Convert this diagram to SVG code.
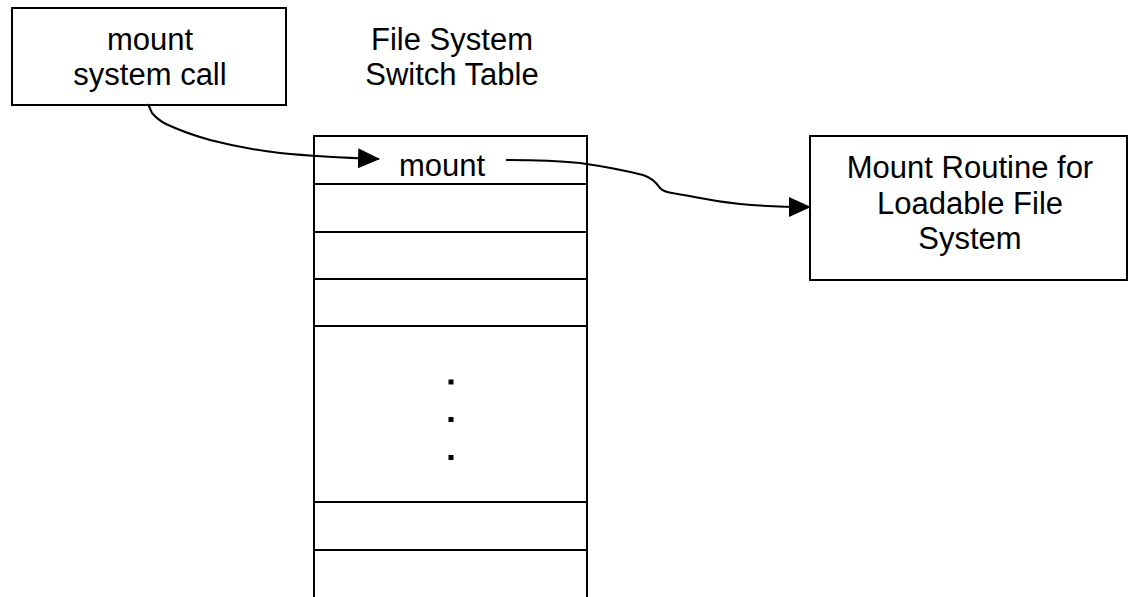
<svg xmlns="http://www.w3.org/2000/svg" width="1130" height="597" viewBox="0 0 1130 597">
<style>
.box{fill:#fff;stroke:#000;stroke-width:2}
.ln{stroke:#000;stroke-width:2;fill:none}
.t{font-family:"Liberation Sans",Arial,sans-serif;font-size:31px;fill:#000;text-anchor:middle}
</style>
<defs>
<marker id="ah" markerWidth="22" markerHeight="20" refX="21" refY="10" orient="auto" markerUnits="userSpaceOnUse">
<path d="M0,0 L22,10 L0,20 Z" fill="#000"/>
</marker>
</defs>
<rect width="1130" height="597" fill="#fff"/>
<g id="syscall">
<rect class="box" x="12" y="8" width="274" height="97"/>
<text class="t" x="150" y="50">mount</text>
<text class="t" x="150" y="85">system call</text>
</g>
<g id="fsst-title">
<text class="t" x="452" y="50">File System</text>
<text class="t" x="452" y="85">Switch Table</text>
</g>
<g id="table">
<path class="ln" d="M314,597 V136 H587 V597"/>
<line class="ln" x1="314" y1="184" x2="587" y2="184"/>
<line class="ln" x1="314" y1="232" x2="587" y2="232"/>
<line class="ln" x1="314" y1="279" x2="587" y2="279"/>
<line class="ln" x1="314" y1="326" x2="587" y2="326"/>
<line class="ln" x1="314" y1="502" x2="587" y2="502"/>
<line class="ln" x1="314" y1="550" x2="587" y2="550"/>
<text class="t" x="442" y="176">mount</text>
<rect x="448.5" y="379.5" width="5" height="5" fill="#000"/>
<rect x="448.5" y="417" width="5" height="5" fill="#000"/>
<rect x="448.5" y="455" width="5" height="5" fill="#000"/>
</g>
<g id="routine">
<rect class="box" x="810" y="136" width="317" height="144"/>
<text class="t" x="970" y="178">Mount Routine for</text>
<text class="t" x="970" y="214">Loadable File</text>
<text class="t" x="970" y="249">System</text>
</g>
<g id="connectors">
<path class="ln" d="M148,104 L152,113 Q158,120 166,124 Q185,133 210,140 Q245,149 280,153 Q320,157 379,159" marker-end="url(#ah)"/>
<path class="ln" d="M506,160 Q550,160 580,163 Q615,168 643,175 Q653,178 660,188 Q664,192 672,193 Q690,196 700,198 Q720,202 740,204 Q770,207 810,207" marker-end="url(#ah)"/>
</g>
</svg>
